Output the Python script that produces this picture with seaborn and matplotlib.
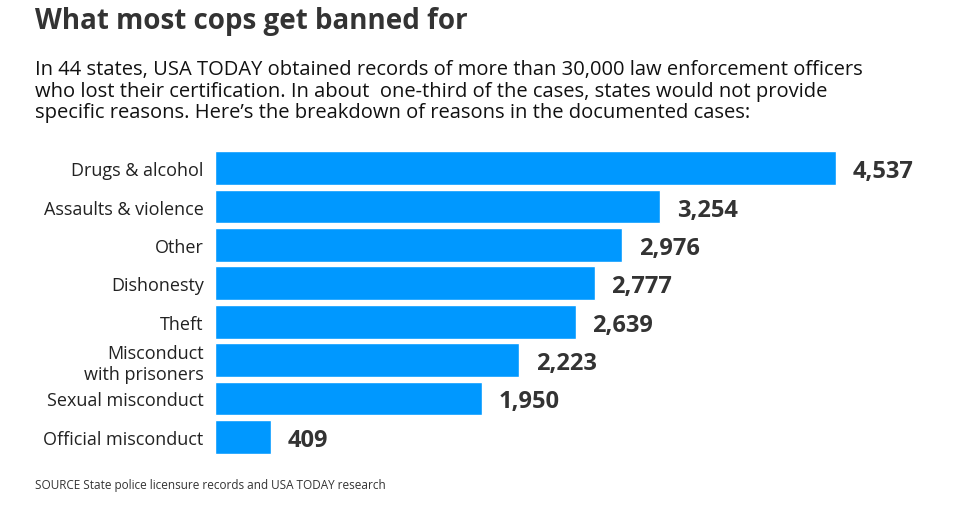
import matplotlib
matplotlib.use("Agg")
import matplotlib.pyplot as plt
import seaborn as sns
import pandas as pd

categories = ["Drugs & alcohol", "Assaults & violence", "Other", "Dishonesty", "Theft",
              "Misconduct\nwith prisoners", "Sexual misconduct", "Official misconduct"]
values = [4537, 3254, 2976, 2777, 2639, 2223, 1950, 409]
df = pd.DataFrame({"reason": categories, "count": values})

sns.set_theme(style="white")
plt.rcParams['font.family'] = ['Open Sans', 'DejaVu Sans']

fig = plt.figure(figsize=(9.63, 5.10), dpi=100)
ax = fig.add_axes([0.223, 0.104, 0.777, 0.602])
sns.barplot(data=df, x="count", y="reason", color="#0098FF", saturation=1, width=0.88, ax=ax)
ax.set_xlim(0, 4537 * (963 - 215) / 621)
ax.set_ylim(7.5, -0.5)
for i, v in enumerate(values):
    ax.text(v + 120, i + 0.08, f"{v:,}", va="center", ha="left", fontsize=17,
            fontweight="bold", color="#333333")
ax.set_xlabel(""); ax.set_ylabel("")
ax.set_xticks([])
ax.tick_params(axis="y", length=0, pad=8, labelsize=13, labelcolor="#222222")
for s in ax.spines.values():
    s.set_visible(False)

fig.text(0.036, 0.957, "What most cops get banned for", fontsize=20, fontweight="bold",
         color="#333333", va="center")
fig.text(0.036, 0.82, "In 44 states, USA TODAY obtained records of more than 30,000 law enforcement officers\n"
         "who lost their certification. In about  one-third of the cases, states would not provide\n"
         "specific reasons. Here\u2019s the breakdown of reasons in the documented cases:",
         fontsize=14.5, color="#111111", va="center", linespacing=1.1)
fig.text(0.036, 0.048, "SOURCE State police licensure records and USA TODAY research",
         fontsize=8.5, color="#333333", va="center")
fig.savefig("out.png", dpi=100)
